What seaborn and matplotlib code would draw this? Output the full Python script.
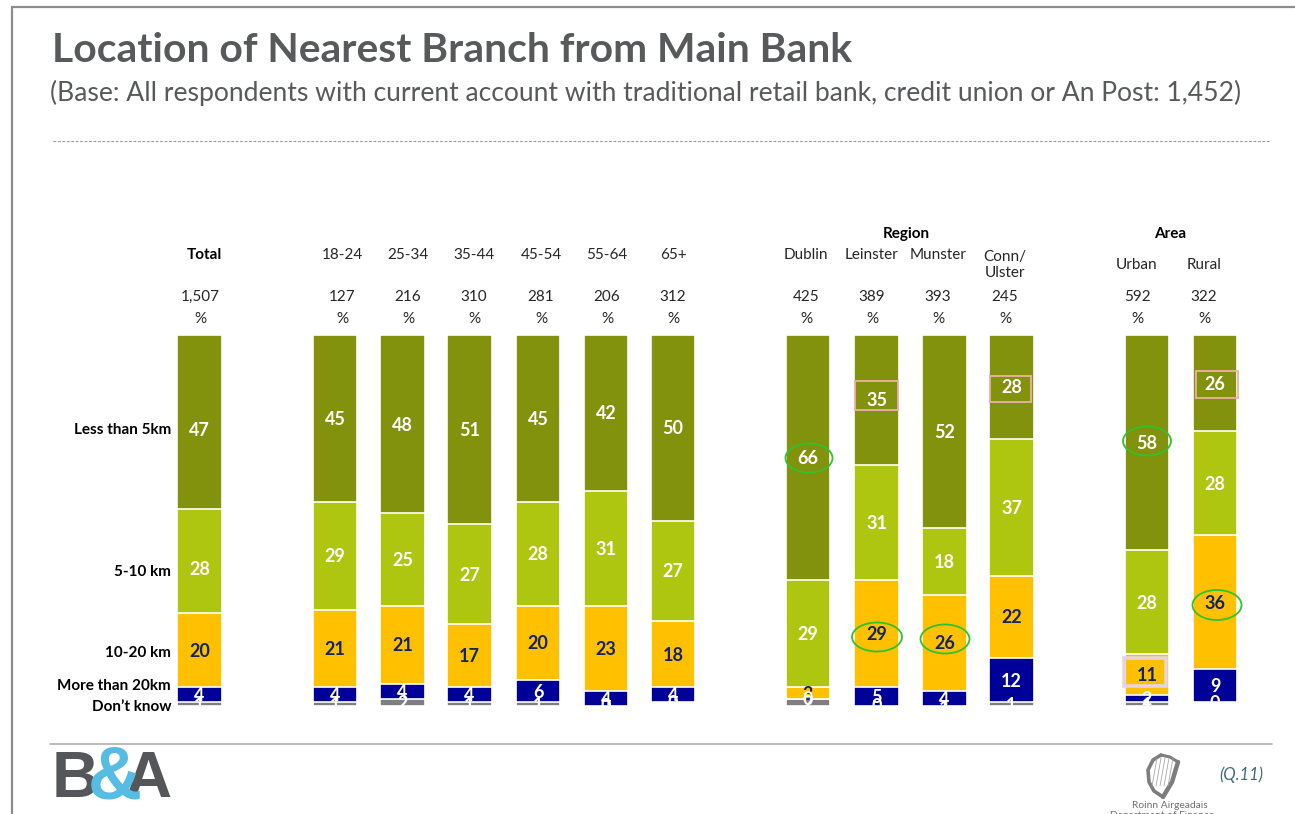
import matplotlib
matplotlib.use("Agg")
import matplotlib.pyplot as plt
from matplotlib.patches import Ellipse, Rectangle
import pandas as pd
import seaborn as sns

groups = ["Total", "18-24", "25-34", "35-44", "45-54", "55-64", "65+",
          "Dublin", "Leinster", "Munster", "Conn/\nUlster", "Urban", "Rural"]
bases = ["1,507", "127", "216", "310", "281", "206", "312",
         "425", "389", "393", "245", "592", "322"]
under_5km = [47, 45, 48, 51, 45, 42, 50, 66, 35, 52, 28, 58, 26]
km_5_10 = [28, 29, 25, 27, 28, 31, 27, 29, 31, 18, 37, 28, 28]
km_10_20 = [20, 21, 21, 17, 20, 23, 18, 3, 29, 26, 22, 11, 36]
over_20km = [4, 4, 4, 4, 6, 4, 4, 0, 5, 4, 12, 2, 9]
dont_know = [1, 1, 2, 1, 1, 0, 0, 2, 0, 1, 1, 1, 0]

series_names = ["Less than 5km", "5-10 km", "10-20 km", "More than 20km", "Don\u2019t know"]
series_values = [under_5km, km_5_10, km_10_20, over_20km, dont_know]
series_colors = ["#82920C", "#AEC60F", "#FFC000", "#000099", "#7F7F7F"]
label_colors = ["white", "white", "#14245F", "white", "white"]

# horizontal layout, in figure pixels
bar_x = [199.5, 335, 402.5, 469.5, 538, 606, 673, 808, 876.5, 944.5, 1011.5, 1147, 1215]
head_x = [200, 342, 408, 474, 541, 607, 673, 806, 872, 938, 1005, 1137, 1204]
head_y = [255, 255, 255, 255, 255, 255, 255, 255, 255, 255, 265, 265, 265]

W, H = 1295, 814
BAR_TOP, BAR_BOTTOM = 335, 706

sns.set_theme(style="white")
plt.rcParams["font.family"] = ["Lato", "DejaVu Sans"]
fig = plt.figure(figsize=(W / 100, H / 100), dpi=100, facecolor="white")

# page-level layer in pixel coordinates
page = fig.add_axes([0, 0, 1, 1], zorder=3)
page.set_xlim(0, W)
page.set_ylim(H, 0)
page.axis("off")
page.patch.set_alpha(0)

# stacked columns: cumulative bars painted from longest to shortest
ax = fig.add_axes([0, (H - BAR_BOTTOM) / H, 1, (BAR_BOTTOM - BAR_TOP) / H], zorder=2)
ax.patch.set_alpha(0)
df = pd.DataFrame({"group": groups, "x": bar_x})
running = [0] * len(groups)
cumulative = []
for vals in series_values:
    running = [a + b for a, b in zip(running, vals)]
    cumulative.append(running)

for idx in range(len(series_names) - 1, -1, -1):
    df["cum"] = cumulative[idx]
    sns.barplot(data=df, x="x", y="cum", native_scale=True, width=44.5 / 67.0,
                color=series_colors[idx], saturation=1, edgecolor="white",
                linewidth=1.2, errorbar=None, ax=ax)
ax.set_xlim(0, W)
ax.set_ylim(100, 0)
ax.axis("off")

# value labels centred in each segment
shift_px = {(0, 0): 8, (0, 1): 8}
for s, vals in enumerate(series_values):
    for g, v in enumerate(vals):
        mid = cumulative[s][g] - v / 2
        down = shift_px.get((g, s), 1)
        ax.annotate(str(v), (bar_x[g], mid), xytext=(0, -down * 0.72),
                    textcoords="offset points", ha="center", va="center",
                    color=label_colors[s], fontsize=13, fontweight="bold",
                    annotation_clip=False, clip_on=True, zorder=5)

# heading block
page.text(52, 51, "Location of Nearest Branch from Main Bank", fontsize=29.4,
          fontweight="bold", color="#58595B", ha="left", va="center")
page.text(50, 93, "(Base: All respondents with current account with traditional retail bank, credit union or An Post: 1,452)",
          fontsize=19.05, color="#58595B", ha="left", va="center")

# slide furniture
page.plot([12, 12], [7, H], color="#8C8C8C", lw=1.6)
page.plot([12, W], [7, 7], color="#8C8C8C", lw=1.6)
page.plot([53, 1270], [141, 141], color="#9A9A9A", lw=0.8, ls=(0, (2.5, 1.5)))
page.plot([50, 1272], [744, 744], color="#B5B5B5", lw=1.3)

# column headers and bases
head_kw = dict(ha="center", va="center", fontsize=11, color="#262626")
for g, name in enumerate(groups):
    if g == 0:
        page.text(204.5, head_y[g], name, fontweight="bold", **{**head_kw, "color": "black"})
    else:
        page.text(head_x[g], head_y[g], name, linespacing=1.25, **head_kw)
    page.text(head_x[g], 297, bases[g], **head_kw)
    page.text(head_x[g], 319, "%", **head_kw)
page.text(906, 234, "Region", ha="center", va="center", fontsize=11, fontweight="bold", color="black")
page.text(1170, 234, "Area", ha="center", va="center", fontsize=11, fontweight="bold", color="black")

# row captions
caption_y = [430, 572, 653, 686, 707]
for name, y in zip(series_names, caption_y):
    page.text(171, y, name, ha="right", va="center", fontsize=11, fontweight="bold", color="black")

# significance callouts
for cx, cy, w, h in [(809, 458, 47, 29), (877, 637, 50, 29), (945, 639, 49, 29),
                     (1147, 441, 48, 29), (1217, 605, 49, 30)]:
    page.add_patch(Ellipse((cx, cy), w, h, fill=False, edgecolor="#2FC22F", lw=1.3))
for x0, y0, x1, y1 in [(855, 381, 898, 410), (990, 376, 1031, 402), (1196, 371, 1238, 398)]:
    page.add_patch(Rectangle((x0, y0), x1 - x0, y1 - y0, fill=False, edgecolor="#EDB0A8", lw=1.3))
page.add_patch(Rectangle((1124, 658), 42, 28, fill=False, edgecolor="#E6D5DC", lw=2.6))

# B&A wordmark
logo_kw = dict(fontweight="bold", va="center", family="Liberation Sans")
page.text(52, 780, "B", color="#55565A", ha="left", fontsize=47, **logo_kw)
page.text(171, 780, "A", color="#55565A", ha="right", fontsize=47, **logo_kw)
page.text(115, 779, "&", color="#55BCE4", ha="center", fontsize=54, **logo_kw)

# harp emblem and department caption
harp = "#7D7D7D"
page.plot([1161, 1153, 1148, 1149, 1154, 1163], [755, 760, 770, 782, 791, 797], color=harp, lw=2.6)
page.plot([1161, 1170, 1178], [755, 757, 762], color=harp, lw=2.2)
page.plot([1178, 1172, 1163], [762, 782, 797], color=harp, lw=3.2)
for top, low in [(1157, 1152), (1161, 1156), (1165, 1160), (1169, 1164), (1173, 1168)]:
    page.plot([top, low], [758, 786], color="#A8A8A8", lw=0.6)
page.text(1170, 805, "Roinn Airgeadais", ha="center", va="center", fontsize=7.4, color="#6E6E6E")
page.text(1162, 816, "Department of Finance", ha="center", va="center", fontsize=7.4, color="#6E6E6E")
page.text(1241, 775, "(Q.11)", ha="center", va="center", fontsize=12, style="italic", color="#3F6B7F")

fig.savefig("out.png", dpi=100)
